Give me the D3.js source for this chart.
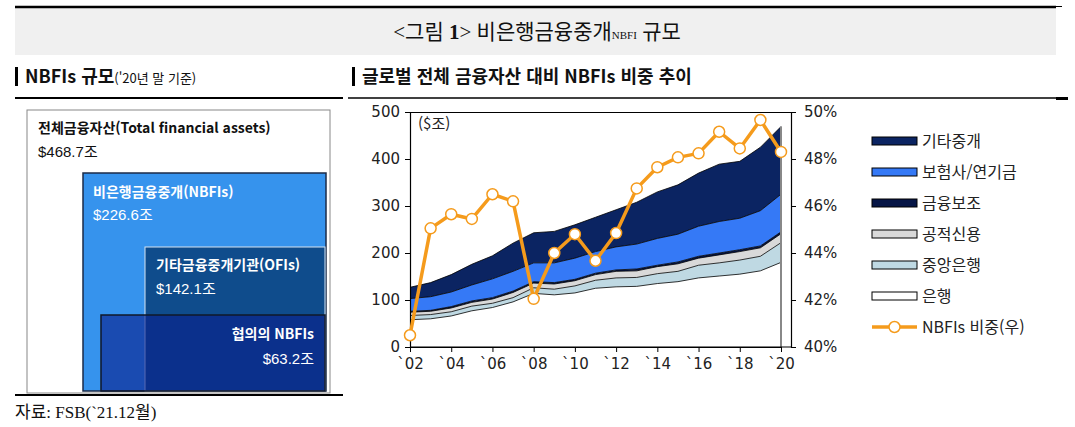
<!DOCTYPE html>
<html lang="ko">
<head>
<meta charset="UTF-8">
<title>비은행금융중개 규모</title>
<script src="https://cdn.jsdelivr.net/npm/d3@7"></script>
<style>
  body { margin: 0; background: #fff; }
  text { font-family: "Noto Sans CJK KR", "Noto Sans", sans-serif; }
  .num text { font-family: "DejaVu Sans", sans-serif; font-size: 15px; fill: #222; }
</style>
</head>
<body>
<svg id="chart" width="1075" height="427"></svg>
<script>
// ---- data ($ trillion) ----
var years        = [2002,2003,2004,2005,2006,2007,2008,2009,2010,2011,2012,2013,2014,2015,2016,2017,2018,2019,2020];
var banks        = [58, 60, 66, 77, 84, 96,114,111,115,125,128,129,135,139,147,151,155,162,180];
var centralBanks = [ 9,  9,  9, 10,  9,  9, 12, 12, 15, 17, 19, 19, 21, 22, 27, 28, 30, 31, 42];
var publicFin    = [ 7,  7,  8,  8,  9, 11, 10, 11, 11, 12, 14, 14, 15, 16, 15, 17, 18, 18, 19];
var auxiliaries  = [ 2,  2,  3,  3,  3,  3,  3,  3,  3,  3,  3,  4,  3,  4,  4,  4,  4,  4,  4];
var insurers     = [27, 29, 31, 34, 40, 42, 40, 42, 45, 46, 49, 53, 57, 59, 64, 67, 67, 75, 80];
var otherOFIs    = [24, 30, 37, 44, 49, 60, 64, 67, 71, 73, 79, 89, 99,105,113,122,121,135,144];
// NBFIs share of global financial assets (%)
var nbfiShare    = [40.5,45.05,45.65,45.45,46.5,46.2,42.05,44.0,44.8,43.67,44.85,46.75,47.65,48.07,48.24,49.16,48.45,49.66,48.3];

var seriesNames  = ["은행","중앙은행","공적신용","금융보조","보험사/연기금","기타중개"];
var leftTicks    = [0,100,200,300,400,500];
var rightTicks   = [40,42,44,46,48,50];
var xTickYears   = [2002,2004,2006,2008,2010,2012,2014,2016,2018,2020];

// left panel (as of end-2020)
var panelLabels  = ["전체금융자산(Total financial assets)","비은행금융중개(NBFIs)","기타금융중개기관(OFIs)","협의의 NBFIs"];
var panelValues  = [468.7, 226.6, 142.1, 63.2];

var svg = d3.select("#chart");

// ---- title ----
svg.append("rect").attr("x",15).attr("y",8).attr("width",1041).attr("height",47).attr("fill","#f0f0f0");
svg.append("line").attr("x1",15).attr("x2",1056).attr("y1",7).attr("y2",7).attr("stroke","#000").attr("stroke-width",2.5);
svg.append("line").attr("x1",1056).attr("x2",1062).attr("y1",6.5).attr("y2",6.5).attr("stroke","#000").attr("stroke-width",1);
var title = svg.append("text").attr("x",537).attr("y",39).attr("text-anchor","middle")
    .style("font-family",'"Liberation Serif","Noto Sans CJK KR",serif').style("font-size","21px").attr("fill","#111");
title.append("tspan").text("<그림 ");
title.append("tspan").style("font-weight","bold").text("1");
title.append("tspan").text("> 비은행금융중개");
title.append("tspan").style("font-size","11px").text("NBFI");
title.append("tspan").text(" 규모");

// ---- section headers ----
function header(x, main, sub) {
  svg.append("rect").attr("x",x).attr("y",67).attr("width",3).attr("height",19).attr("fill","#000");
  var t = svg.append("text").attr("x",x+10).attr("y",83).style("font-weight","bold").style("font-size","18px").attr("fill","#111");
  t.append("tspan").text(main);
  if (sub) t.append("tspan").style("font-size","13px").style("font-weight","normal").text(sub);
}
header(15, "NBFIs 규모", "('20년 말 기준)");
header(352, "글로벌 전체 금융자산 대비 NBFIs 비중 추이");
svg.append("line").attr("x1",15).attr("x2",343).attr("y1",98).attr("y2",98).attr("stroke","#000").attr("stroke-width",2);
svg.append("line").attr("x1",348).attr("x2",1056).attr("y1",98).attr("y2",98).attr("stroke","#000").attr("stroke-width",1.5);
svg.append("line").attr("x1",1056).attr("x2",1068).attr("y1",98.5).attr("y2",98.5).attr("stroke","#000").attr("stroke-width",3);

// ---- left panel: nested boxes ----
svg.append("rect").attr("x",27).attr("y",110).attr("width",303).attr("height",283)
   .attr("fill","#fff").attr("stroke","#888").attr("stroke-width",1);
svg.append("rect").attr("x",83).attr("y",173).attr("width",243).attr("height",218)
   .attr("fill","#3693ed").attr("stroke","#1b2b48").attr("stroke-width",1.5);
svg.append("rect").attr("x",145).attr("y",247).attr("width",180).attr("height",144)
   .attr("fill","#0f4c8c").attr("stroke","#d6e4f2").attr("stroke-width",1);
svg.append("rect").attr("x",101).attr("y",315).attr("width",224).attr("height",76)
   .attr("fill","#0a1f8c").attr("fill-opacity",0.62).attr("stroke","#101828").attr("stroke-width",1.5);

var panelPos = [
  {x:38,  y1:133, y2:157, anchor:"start", color:"#111"},
  {x:93,  y1:197, y2:220, anchor:"start", color:"#fff"},
  {x:156, y1:270, y2:294, anchor:"start", color:"#fff"},
  {x:314, y1:339, y2:364, anchor:"end",   color:"#fff"}
];
panelLabels.forEach(function(lbl, i) {
  var p = panelPos[i];
  svg.append("text").attr("x",p.x).attr("y",p.y1).attr("text-anchor",p.anchor)
     .style("font-size","14px").style("font-weight","bold").attr("fill",p.color).text(lbl);
  svg.append("text").attr("x",p.x).attr("y",p.y2).attr("text-anchor",p.anchor)
     .style("font-family",'"Liberation Sans","Noto Sans CJK KR",sans-serif')
     .style("font-size","15px").attr("fill",p.color).text("$" + panelValues[i].toFixed(1) + "조");
});
svg.append("line").attr("x1",15).attr("x2",343).attr("y1",395).attr("y2",395).attr("stroke","#000").attr("stroke-width",2);
svg.append("text").attr("x",15).attr("y",418)
   .style("font-family",'"Liberation Serif","Noto Sans CJK KR",serif').style("font-size","17px").attr("fill","#111")
   .text("자료: FSB(`21.12월)");

// ---- right panel: stacked area + share line ----
var x  = d3.scaleLinear().domain([2002,2020]).range([410,781]);
var y  = d3.scaleLinear().domain([0,500]).range([347,112]);
var yR = d3.scaleLinear().domain([40,50]).range([347,112]);

var keys   = ["banks","centralBanks","publicFin","auxiliaries","insurers","otherOFIs"];
var colors = ["#ffffff","#bfd9e3","#d9d9d9","#061546","#3579f6","#0b2462"];
var rows = years.map(function(yr, i) {
  return {year:yr, banks:banks[i], centralBanks:centralBanks[i], publicFin:publicFin[i],
          auxiliaries:auxiliaries[i], insurers:insurers[i], otherOFIs:otherOFIs[i]};
});
var series = d3.stack().keys(keys)(rows);

var area = d3.area()
    .x(function(d) { return x(d.data.year); })
    .y0(function(d) { return y(d[0]); })
    .y1(function(d) { return y(d[1]); });
var topLine = d3.line()
    .x(function(d) { return x(d.data.year); })
    .y(function(d) { return y(d[1]); });

svg.selectAll("path.area").data(series).enter().append("path")
   .attr("class","area").attr("d",area)
   .attr("fill",function(d,i){ return colors[i]; });
svg.selectAll("path.edge").data(series).enter().append("path")
   .attr("class","edge").attr("d",topLine)
   .attr("fill","none").attr("stroke","#000").attr("stroke-width",0.8);

var last = series[series.length-1][years.length-1];
svg.append("line").attr("x1",x(2020)).attr("x2",x(2020)).attr("y1",y(last[1])).attr("y2",y(0))
   .attr("stroke","#888").attr("stroke-width",2);

// frame + axes
svg.append("line").attr("x1",410).attr("x2",791).attr("y1",112.5).attr("y2",112.5).attr("stroke","#000").attr("stroke-width",1);
svg.append("line").attr("x1",410).attr("x2",791).attr("y1",347).attr("y2",347).attr("stroke","#000").attr("stroke-width",1.2);

var gL = svg.append("g").attr("class","num").attr("transform","translate(410,0)")
   .call(d3.axisLeft(y).tickValues(leftTicks).tickSize(5).tickSizeOuter(0).tickPadding(5));
var gR = svg.append("g").attr("class","num").attr("transform","translate(791,0)")
   .call(d3.axisRight(yR).tickValues(rightTicks).tickSize(5).tickSizeOuter(0).tickPadding(8)
   .tickFormat(function(d){ return d + "%"; }));
var gB = svg.append("g").attr("class","num").attr("transform","translate(0,347)")
   .call(d3.axisBottom(x).tickValues(xTickYears).tickSize(5).tickSizeOuter(0).tickPadding(6)
   .tickFormat(function(d){ return "`" + String(d).slice(2); }));
[gL,gR,gB].forEach(function(g) {
  g.selectAll("path.domain").attr("stroke","#000").attr("stroke-width",1.2);
  g.selectAll(".tick line").attr("stroke","#000");
  g.selectAll("text").attr("font-size",null);
});

svg.append("text").attr("x",418).attr("y",129).style("font-size","15px").attr("fill","#222").text("($조)");

// share line
var orange = "#f59b1c";
var shareLine = d3.line()
    .x(function(d,i){ return x(years[i]); })
    .y(function(d){ return yR(d); });
svg.append("path").datum(nbfiShare).attr("d",shareLine)
   .attr("fill","none").attr("stroke",orange).attr("stroke-width",3.5).attr("stroke-linejoin","round");
svg.selectAll("circle.pt").data(nbfiShare).enter().append("circle").attr("class","pt")
   .attr("cx",function(d,i){ return x(years[i]); })
   .attr("cy",function(d){ return yR(d); })
   .attr("r",5.5).attr("fill","#fff").attr("stroke",orange).attr("stroke-width",1.5);

// ---- legend ----
var legendOrder = [5,4,3,2,1,0];
var lg = svg.append("g");
legendOrder.forEach(function(k, j) {
  var cy = 141 + j*31;
  lg.append("rect").attr("x",872).attr("y",cy-4).attr("width",45).attr("height",8)
    .attr("fill",colors[k]).attr("stroke","#000").attr("stroke-width",1);
  lg.append("text").attr("x",922).attr("y",cy+6).style("font-size","16px").attr("fill","#222").text(seriesNames[k]);
});
var ly = 141 + 6*31;
lg.append("line").attr("x1",872).attr("x2",917).attr("y1",ly).attr("y2",ly).attr("stroke",orange).attr("stroke-width",3.5);
lg.append("circle").attr("cx",894.5).attr("cy",ly).attr("r",5.5).attr("fill","#fff").attr("stroke",orange).attr("stroke-width",1.5);
lg.append("text").attr("x",922).attr("y",ly+6).style("font-size","16px").attr("fill","#222").text("NBFIs 비중(우)");
</script>
</body>
</html>
